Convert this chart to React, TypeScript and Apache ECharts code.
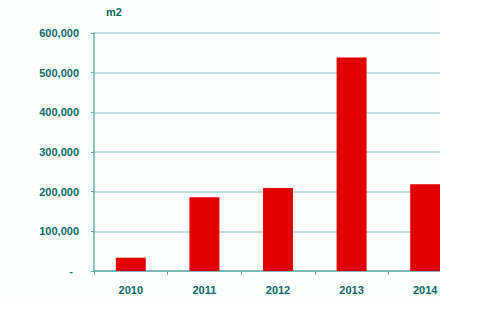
import React, { useEffect, useRef } from "react";
import * as echarts from "echarts";

const categories = ["2010", "2011", "2012", "2013", "2014"];
const areaValues = [33500, 186000, 209000, 538000, 218500];
const yTicks = [0, 100000, 200000, 300000, 400000, 500000, 600000];
const unitLabel = "m2";

export default function App() {
  const ref = useRef<HTMLDivElement>(null);
  useEffect(() => {
    if (!ref.current) return;
    const chart = echarts.init(ref.current, undefined, { renderer: "svg" });
    const textColor = "#0b6a6a";
    const font = "Liberation Sans, Arial, sans-serif";
    chart.setOption({
      animation: false,
      backgroundColor: "#fdfefe",
      title: {
        text: unitLabel,
        left: 101,
        top: 1,
        textStyle: { color: textColor, fontSize: 11, fontWeight: "bold", fontFamily: font },
      },
      grid: { left: 94, right: 8, top: 33, bottom: 39, containLabel: false },
      xAxis: {
        type: "category",
        data: categories,
        axisLine: { show: true, lineStyle: { color: "#5fb0b0", width: 1.5 } },
        axisTick: { show: true, length: 4, lineStyle: { color: "#5fb0b0" } },
        axisLabel: { color: textColor, fontSize: 11, fontWeight: "bold", fontFamily: font, margin: 13 },
      },
      yAxis: {
        type: "value",
        min: yTicks[0],
        max: yTicks[yTicks.length - 1],
        interval: yTicks[1] - yTicks[0],
        axisLine: { show: true, lineStyle: { color: "#5fb0b0", width: 1.5 } },
        axisTick: { show: true, length: 3, lineStyle: { color: "#5fb0b0" } },
        splitLine: { show: true, lineStyle: { color: "#a6d3d3", width: 1.5 } },
        axisLabel: {
          color: textColor,
          fontSize: 11,
          fontWeight: "bold",
          fontFamily: font,
          margin: 15,
          formatter: (v: number) => (v === 0 ? "{z|-}" : v.toLocaleString("en-US")),
          rich: {
            z: { color: textColor, fontSize: 11, fontWeight: "bold", fontFamily: font, padding: [0, 6, 0, 0] },
          },
        },
      },
      series: [
        {
          type: "bar",
          data: areaValues,
          barWidth: 30,
          itemStyle: { color: "#e30000" },
        },
      ],
    });
    return () => chart.dispose();
  }, []);
  return (
    <div
      style={{
        position: "absolute",
        left: 0,
        top: 0,
        width: 440,
        height: 298,
        overflow: "hidden",
        background: "#fff",
      }}
    >
      <div ref={ref} style={{ width: 470, height: 310 }} />
    </div>
  );
}
